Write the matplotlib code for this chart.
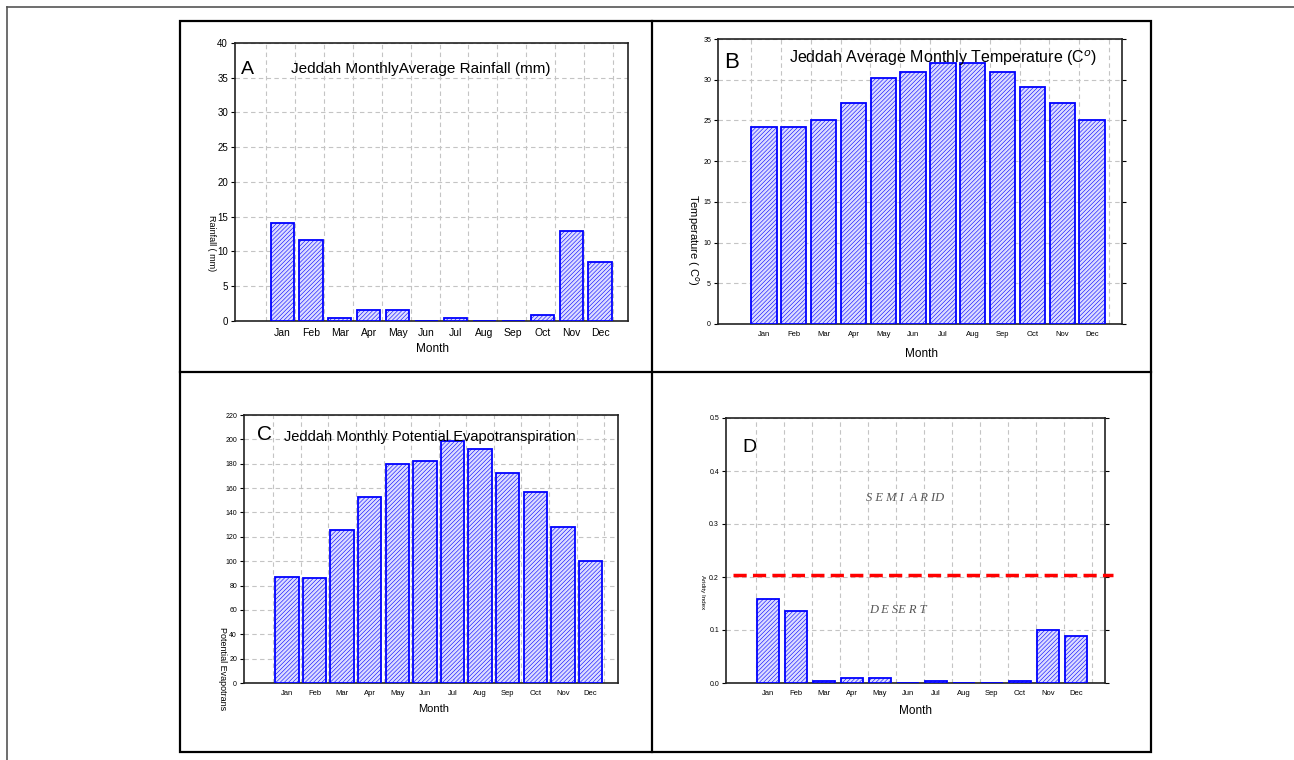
import numpy as np
import matplotlib.pyplot as plt
from matplotlib.lines import Line2D
from matplotlib.patches import Rectangle

plt.rcParams['font.family'] = ['Liberation Sans', 'DejaVu Sans']
plt.rcParams['hatch.linewidth'] = 0.4

months = ['Jan', 'Feb', 'Mar', 'Apr', 'May', 'Jun', 'Jul', 'Aug', 'Sep', 'Oct', 'Nov', 'Dec']
rainfall = [14.1, 11.6, 0.4, 1.6, 1.6, 0.0, 0.4, 0.0, 0.0, 0.8, 12.9, 8.5]
temperature = [24.2, 24.2, 25.0, 27.1, 30.2, 30.9, 32.0, 32.0, 30.9, 29.1, 27.1, 25.0]
evapotranspiration = [87, 86, 126, 153, 180, 182, 199, 192, 172, 157, 128, 100]
aridity = [0.158, 0.136, 0.004, 0.009, 0.009, 0.0, 0.004, 0.0, 0.0, 0.004, 0.100, 0.088]
aridity_limit = 0.203

W, H = 1294, 760
fig = plt.figure(figsize=(W / 100, H / 100), dpi=100)


def fx(x):
    return x / W


def fy(y):
    return 1 - y / H


def box(l, t, r, b):
    return [l / W, 1 - b / H, (r - l) / W, (b - t) / H]


def panel(rect, values, ymax, ystep, width, grid_off, xlim, tsize, right_ticks):
    ax = fig.add_axes(rect)
    x = np.arange(len(months))
    ax.bar(x, values, width=width, facecolor='#dcdcff', edgecolor='#0000ff',
           hatch='////////', linewidth=1.3, zorder=3)
    ax.set_xlim(xlim)
    ax.set_ylim(0, ymax)
    ax.set_yticks(np.arange(0, ymax + ystep / 2, ystep))
    ax.set_xticks(x)
    ax.set_xticklabels(months)
    ax.set_xticks(np.arange(-1, 12) + grid_off, minor=True)
    ax.grid(True, which='minor', axis='x', color='#c4c4c4', ls=(0, (4, 3)), lw=0.8, zorder=0)
    ax.grid(True, which='major', axis='y', color='#c4c4c4', ls=(0, (4, 3)), lw=0.8, zorder=0)
    ax.tick_params(axis='x', which='both', length=0, labelsize=tsize + 0.5, pad=5)
    ax.tick_params(axis='y', length=3, direction='out', labelsize=tsize, pad=2,
                   right=right_ticks, width=0.8)
    for s in ax.spines.values():
        s.set_linewidth(1.2)
        s.set_color('#222222')
    return ax


# A - rainfall
axA = panel(box(235, 43, 628, 321), rainfall, 40, 5, 0.8, 0.45, (-1.63, 11.97), 7, False)
fig.text(fx(247), fy(69), 'A', fontsize=14, va='center', ha='center')
fig.text(fx(421), fy(69), 'Jeddah MonthlyAverage Rainfall (mm)', fontsize=11, va='center', ha='center')
fig.text(fx(211), fy(243), 'Rainfall ( mm)', fontsize=6.5, rotation=270, va='center', ha='center')
fig.text(fx(432), fy(349), 'Month', fontsize=8.5, va='center', ha='center')

# B - temperature
axB = panel(box(718, 39, 1122, 324), temperature, 35, 5, 0.85, 0.57, (-1.54, 12.0), 5, True)
fig.text(fx(732), fy(63), 'B', fontsize=16, va='center', ha='center')
fig.text(fx(943), fy(58), 'Jeddah Average Monthly Temperature (C$^{o}$)', fontsize=11.5,
         va='center', ha='center')
fig.text(fx(693), fy(240), 'Temperature ( C$^{o}$)', fontsize=8, rotation=270, va='center', ha='center')
fig.text(fx(922), fy(354), 'Month', fontsize=8.5, va='center', ha='center')

# C - potential evapotranspiration
axC = panel(box(244, 415, 618, 683), evapotranspiration, 220, 20, 0.85, 0.5, (-1.56, 12.0), 5, False)
fig.text(fx(265), fy(434), 'C', fontsize=15, va='center', ha='center')
fig.text(fx(430), fy(437), 'Jeddah Monthly Potential Evapotranspiration', fontsize=10.5,
         va='center', ha='center')
fig.text(fx(223), fy(627), 'Potential Evapotrans', fontsize=6.5, rotation=270, va='top', ha='center')
fig.text(fx(434), fy(709), 'Month', fontsize=8, va='center', ha='center')

# D - aridity index
axD = panel(box(726, 418, 1105, 683), aridity, 0.5, 0.1, 0.8, 0.57, (-1.5, 12.04), 5, True)
axD.set_yticklabels(['%.1f' % v for v in np.arange(0, 0.55, 0.1)])
axD.plot([-1.25, 12.32], [aridity_limit, aridity_limit], color='#ff0000', lw=2.5,
         ls=(0, (3.8, 1.8)), clip_on=False, zorder=4)
fig.text(fx(749), fy(448), 'D', fontsize=14, va='center', ha='center')
fig.text(fx(905), fy(498), 'S E M I  A R ID', fontsize=9, style='italic', color='#555555',
         family='Liberation Serif', va='center', ha='center')
fig.text(fx(898), fy(610), 'D E SE R T', fontsize=9, style='italic', color='#555555',
         family='Liberation Serif', va='center', ha='center')
fig.text(fx(702), fy(592), 'Aridity Index', fontsize=4.5, rotation=270, va='center', ha='center')
fig.text(fx(916), fy(711), 'Month', fontsize=8.5, va='center', ha='center')

# panel frame
fig.add_artist(Rectangle((fx(180), fy(752)), fx(1151) - fx(180), fy(21) - fy(752),
                         transform=fig.transFigure, fill=False, ec='black', lw=1.6))
fig.add_artist(Line2D([fx(652), fx(652)], [fy(21), fy(752)], color='black', lw=1.6))
fig.add_artist(Line2D([fx(180), fx(1151)], [fy(372), fy(372)], color='black', lw=1.6))

# outer page border
fig.add_artist(Line2D([fx(7), 1], [fy(6.5), fy(6.5)], color='#555555', lw=1.2))
fig.add_artist(Line2D([fx(7), fx(7)], [fy(6.5), 0], color='#555555', lw=1.2))

fig.savefig('out.png', dpi=100)
